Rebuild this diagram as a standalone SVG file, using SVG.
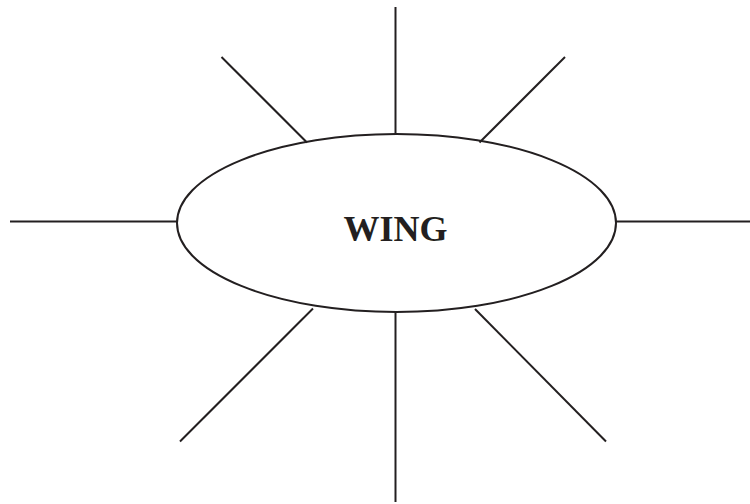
<svg xmlns="http://www.w3.org/2000/svg" width="750" height="504" viewBox="0 0 750 504">
<style>
.ln{stroke:#231f20;stroke-width:2;fill:none}
.lbl{font-family:"Liberation Serif",serif;font-weight:bold;font-size:36px;fill:#231f20}
</style>
<rect width="750" height="504" fill="#fff"/>
<g id="connectors" class="ln">
<line x1="395.5" y1="7" x2="395.5" y2="134"/>
<line x1="395.5" y1="312" x2="395.5" y2="502"/>
<line x1="10" y1="221.5" x2="177" y2="221.5"/>
<line x1="616" y1="221.5" x2="750" y2="221.5"/>
<line x1="221.5" y1="57" x2="307" y2="142.5"/>
<line x1="565" y1="57" x2="479.5" y2="142.5"/>
<line x1="313" y1="308.5" x2="180" y2="441.5"/>
<line x1="475" y1="309" x2="606" y2="441.5"/>
</g>
<g id="wing">
<ellipse class="ln" cx="396.5" cy="223" rx="219.5" ry="89" fill="#fff"/>
<text class="lbl" x="395.5" y="241" text-anchor="middle">WING</text>
</g>
</svg>
